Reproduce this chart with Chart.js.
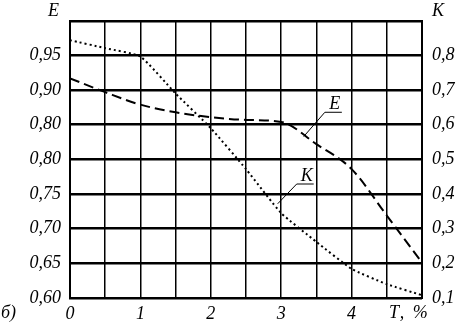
<!DOCTYPE html>
<html>
<head>
<meta charset="utf-8">
<script src="https://cdn.jsdelivr.net/npm/chart.js@4/dist/chart.umd.min.js"></script>
<style>
  html, body { margin: 0; padding: 0; background: #fff; }
  #wrap { width: 460px; height: 322px; }
</style>
</head>
<body>
<div id="wrap"><canvas id="chart" width="460" height="322"></canvas></div>
<script>
// T, % along the bottom
const tValues = [0, 0.5, 1, 1.5, 2, 2.5, 3, 3.5, 4, 4.5, 5];
// E (left axis, dashed)
const eValues = [0.917, 0.897, 0.879, 0.868, 0.861, 0.857, 0.854, 0.822, 0.786, 0.719, 0.651];
// K (right axis, dotted)
const kValues = [0.844, 0.821, 0.797, 0.690, 0.590, 0.472, 0.345, 0.262, 0.184, 0.140, 0.108];

// tick labels as printed (0.85 is printed as 0,80 in the original)
const eTickLabels = { 0.6: '0,60', 0.65: '0,65', 0.7: '0,70', 0.75: '0,75', 0.8: '0,80', 0.85: '0,80', 0.9: '0,90', 0.95: '0,95' };
const kTickLabels = { 0.1: '0,1', 0.2: '0,2', 0.3: '0,3', 0.4: '0,4', 0.5: '0,5', 0.6: '0,6', 0.7: '0,7', 0.8: '0,8' };
const tTickLabels = { 0: '0', 1: '1', 2: '2', 3: '3', 4: '4' };

// callout labels: text position and the point on the curve the leader goes to
const eCallout = { t: 3.62, v: 0.868, toT: 3.32, toV: 0.833 };
const kCallout = { t: 3.22, v: 0.429, toT: 2.95, toV: 0.372 };

const FONT = 'italic 18px "Liberation Serif", "DejaVu Serif", serif';
const tickFont = { family: '"Liberation Serif", serif', size: 18, style: 'italic' };

function lookup(map, v) {
  const key = Object.keys(map).find(k => Math.abs(parseFloat(k) - v) < 1e-6);
  return key !== undefined ? map[key] : '';
}

const textPlugin = {
  id: 'extraText',
  afterDraw(chart) {
    const ctx = chart.ctx;
    const x = chart.scales.x, yE = chart.scales.yE, yK = chart.scales.yK;
    ctx.save();
    ctx.fillStyle = '#000';
    ctx.strokeStyle = '#000';
    ctx.font = FONT;
    ctx.textBaseline = 'middle';

    // axis names
    ctx.textAlign = 'right';
    ctx.fillText('E', chart.chartArea.left - 11, 11);
    ctx.textAlign = 'left';
    ctx.fillText('K', chart.chartArea.right + 10, 11);
    ctx.fillText('б)', 1, 313);
    ctx.textAlign = 'center';
    ctx.letterSpacing = '2px';
    ctx.fillText('T, %', x.getPixelForValue(4.82), 313);
    ctx.letterSpacing = '0px';

    // callouts
    const drawCallout = (c, scale, label) => {
      const px = x.getPixelForValue(c.t), py = scale.getPixelForValue(c.v);
      const qx = x.getPixelForValue(c.toT), qy = scale.getPixelForValue(c.toV);
      ctx.lineWidth = 1;
      ctx.beginPath();
      ctx.moveTo(px + 17, py);
      ctx.lineTo(px, py);
      ctx.lineTo(qx, qy);
      ctx.stroke();
      ctx.textAlign = 'center';
      ctx.textBaseline = 'alphabetic';
      ctx.fillText(label, px + 10, py - 3);
    };
    drawCallout(eCallout, yE, 'E');
    drawCallout(kCallout, yK, 'K');
    ctx.restore();
  }
};

new Chart(document.getElementById('chart').getContext('2d'), {
  type: 'line',
  data: {
    datasets: [
      {
        label: 'E',
        data: tValues.map((t, i) => ({ x: t, y: eValues[i] })),
        yAxisID: 'yE',
        borderColor: '#000',
        borderWidth: 2,
        borderDash: [10, 5],
        pointRadius: 0,
        cubicInterpolationMode: 'monotone',
        fill: false,
      },
      {
        label: 'K',
        data: tValues.map((t, i) => ({ x: t, y: kValues[i] })),
        yAxisID: 'yK',
        borderColor: '#000',
        borderWidth: 2,
        borderDash: [2, 3],
        pointRadius: 0,
        tension: 0.15,
        fill: false,
      },
    ],
  },
  options: {
    responsive: false,
    animation: false,
    layout: { padding: { top: 1, left: 0, right: 0, bottom: 0 } },
    plugins: { legend: { display: false }, tooltip: { enabled: false } },
    scales: {
      x: {
        type: 'linear',
        min: 0,
        max: 5,
        afterFit: s => { s.height = 24; },
        afterBuildTicks: s => { s.ticks = tValues.map(v => ({ value: v })); },
        grid: { color: '#000', lineWidth: 1.5, drawTicks: false },
        border: { color: '#000', width: 2 },
        ticks: {
          color: '#000',
          font: tickFont,
          padding: 5,
          maxRotation: 0,
          autoSkip: false,
          callback: v => lookup(tTickLabels, v),
        },
      },
      yE: {
        position: 'left',
        min: 0.6,
        max: 1.0,
        afterFit: s => { s.width = 70; },
        afterBuildTicks: s => {
          s.ticks = [0.6, 0.65, 0.7, 0.75, 0.8, 0.85, 0.9, 0.95, 1.0].map(v => ({ value: v }));
        },
        grid: { color: '#000', lineWidth: 2.5, drawTicks: false },
        border: { color: '#000', width: 2 },
        ticks: {
          color: '#000',
          font: tickFont,
          padding: 9,
          autoSkip: false,
          callback: v => lookup(eTickLabels, v),
        },
      },
      yK: {
        position: 'right',
        min: 0.1,
        max: 0.9,
        afterFit: s => { s.width = 38; },
        afterBuildTicks: s => {
          s.ticks = [0.1, 0.2, 0.3, 0.4, 0.5, 0.6, 0.7, 0.8, 0.9].map(v => ({ value: v }));
        },
        grid: { display: false, drawTicks: false },
        border: { color: '#000', width: 2 },
        ticks: {
          color: '#000',
          font: tickFont,
          padding: 10,
          autoSkip: false,
          callback: v => lookup(kTickLabels, v),
        },
      },
    },
  },
  plugins: [textPlugin],
});
</script>
</body>
</html>
